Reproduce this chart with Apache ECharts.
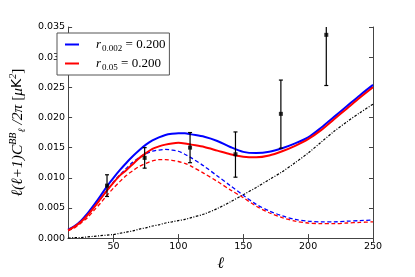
<!DOCTYPE html>
<html>
<head>
<meta charset="utf-8">
<script src="https://cdn.jsdelivr.net/npm/echarts@6/dist/echarts.min.js"></script>
<style>
html,body{margin:0;padding:0;background:#fff;}
#chart{width:415px;height:277px;}
</style>
</head>
<body>
<div id="chart"></div>
<script>
// multipole values for the theory curves
const ells = [15,20,25,30,35,40,45,50,55,60,65,70,75,80,85,90,95,100,105,110,120,130,140,150,160,170,180,190,200,210,220,230,240,250];
// total BB, r_0.002 = 0.2 (blue solid)
const totalBlue = [0.0014,0.0020,0.0029,0.0041,0.0055,0.0070,0.0086,0.0100,0.0113,0.0125,0.0136,0.0146,0.0155,0.0162,0.0167,0.0171,0.0173,0.0174,0.0174,0.0172,0.0168,0.0161,0.0151,0.0143,0.0141,0.0143,0.0149,0.0157,0.0167,0.0183,0.0201,0.0219,0.0237,0.0254];
// total BB, r_0.05 = 0.2 (red solid)
const totalRed = [0.0013,0.0019,0.0027,0.0038,0.0051,0.0065,0.0079,0.0092,0.0104,0.0113,0.0123,0.0133,0.0141,0.0148,0.0152,0.0155,0.0157,0.0158,0.0157,0.0155,0.0151,0.0145,0.0139,0.0135,0.0134,0.0137,0.0144,0.0153,0.0164,0.0179,0.0197,0.0215,0.0233,0.0250];
// tensor-only parts (dashed)
const tensorBlue = [0.0013,0.0019,0.0027,0.0038,0.0051,0.0065,0.0079,0.0093,0.0105,0.0116,0.0126,0.0134,0.0140,0.0144,0.0146,0.0147,0.0146,0.0144,0.0139,0.0133,0.0119,0.0103,0.0087,0.0071,0.0056,0.0045,0.0037,0.0031,0.0028,0.0027,0.0027,0.0028,0.0029,0.0030];
const tensorRed = [0.0012,0.0017,0.0025,0.0034,0.0046,0.0058,0.0071,0.0083,0.0094,0.0104,0.0112,0.0119,0.0124,0.0128,0.0130,0.0130,0.0129,0.0127,0.0124,0.0119,0.0107,0.0094,0.0080,0.0067,0.0053,0.0042,0.0034,0.0028,0.0025,0.0024,0.0024,0.0025,0.0026,0.0027];
// lensing BB (black dash-dot)
const lensing = [0.0000,0.0001,0.0001,0.0002,0.0003,0.0004,0.0005,0.0006,0.0008,0.0010,0.0012,0.0015,0.0017,0.0020,0.0022,0.0025,0.0027,0.0029,0.0031,0.0034,0.0040,0.0049,0.0060,0.0072,0.0084,0.0097,0.0110,0.0125,0.0141,0.0159,0.0177,0.0193,0.0208,0.0222];
// band powers with error bars
const bandL = [45,74,109,144,179,214];
const bandVal = [0.0087,0.0133,0.0150,0.0139,0.0206,0.0337];
const bandLo = [0.0069,0.0116,0.0125,0.0101,0.0149,0.0253];
const bandHi = [0.0105,0.0150,0.0175,0.0176,0.0262,0.0421];
// ticks
const xTicks = [50,100,150,200,250];
const legendNames = ['r_0.002','r_0.05'];

const zip = (xs, ys) => xs.map((x, i) => [x, ys[i]]);
const serif = "'Liberation Serif','DejaVu Serif',serif";

const chart = echarts.init(document.getElementById('chart'), null, {renderer: 'canvas'});

const frameX = {
  type: 'value', min: 15, max: 250, position: 'top',
  axisLine: {show: true, lineStyle: {color: '#444', width: 1}},
  axisTick: {show: true, inside: true, length: 4, customValues: xTicks, lineStyle: {color: '#444'}},
  axisLabel: {show: false}, splitLine: {show: false}
};
const frameY = {
  type: 'value', min: 0, max: 0.035, interval: 0.005, position: 'right',
  axisLine: {show: true, lineStyle: {color: '#444', width: 1}},
  axisTick: {show: true, inside: true, length: 4, lineStyle: {color: '#444'}},
  axisLabel: {show: false}, splitLine: {show: false}
};

const option = {
  animation: false,
  backgroundColor: '#fff',
  grid: {left: 52, right: 42, top: 27, bottom: 35, show: false},
  legend: {
    orient: 'vertical',
    left: 57, top: 33,
    padding: [3, 4, 3, 8],
    itemGap: 2,
    itemWidth: 14, itemHeight: 2,
    icon: 'rect',
    borderColor: '#555', borderWidth: 1, backgroundColor: '#fff',
    data: legendNames.map(n => ({name: n, icon: 'rect'})),
    formatter: function (n) {
      return n === 'r_0.002' ? '{r|r}{s|0.002}{t| = 0.200}' : '{r|r}{s|0.05}{t| = 0.200}';
    },
    textStyle: {
      padding: [0, 0, 0, 12],
      rich: {
        r: {fontFamily: serif, fontStyle: 'italic', fontSize: 13, lineHeight: 16, color: '#000'},
        s: {fontFamily: serif, fontSize: 9, lineHeight: 9, padding: [8, 0, 0, 1], color: '#000'},
        t: {fontFamily: serif, fontSize: 13, lineHeight: 16, color: '#000'}
      }
    }
  },
  xAxis: [{
    type: 'value', min: 15, max: 250,
    name: 'ℓ', nameLocation: 'middle', nameGap: 17,
    nameTextStyle: {fontFamily: serif, fontStyle: 'italic', fontSize: 16, color: '#000'},
    axisLine: {show: true, onZero: false, lineStyle: {color: '#444', width: 1}},
    axisTick: {show: true, inside: true, length: 4, customValues: xTicks, lineStyle: {color: '#444'}},
    axisLabel: {customValues: xTicks, margin: 3, fontFamily: 'DejaVu Sans', fontSize: 9.5, color: '#000'},
    splitLine: {show: false}
  }, frameX],
  yAxis: [{
    type: 'value', min: 0, max: 0.035, interval: 0.005,
    name: '{a|ℓ(ℓ+1)C}{sp|BB}{sb|ℓ}{a| /2}{a|π}{u| [}{a|μ}{k|K}{sp|2}{u|]}',
    nameLocation: 'middle', nameGap: 36, nameRotate: 90,
    nameTextStyle: {
      color: '#000',
      rich: {
        a: {fontFamily: serif, fontStyle: 'italic', fontSize: 15.5, lineHeight: 18, color: '#000'},
        u: {fontFamily: serif, fontSize: 15.5, lineHeight: 18, color: '#000'},
        k: {fontFamily: 'DejaVu Sans', fontSize: 14, lineHeight: 18, color: '#000'},
        sp: {fontFamily: serif, fontStyle: 'italic', fontSize: 10, lineHeight: 10, padding: [0, 0, 9, 0], color: '#000'},
        sb: {fontFamily: serif, fontStyle: 'italic', fontSize: 10, lineHeight: 10, padding: [9, 0, 0, 0], color: '#000'}
      }
    },
    axisLine: {show: true, lineStyle: {color: '#444', width: 1}},
    axisTick: {show: true, inside: true, length: 4, lineStyle: {color: '#444'}},
    axisLabel: {margin: 3, fontFamily: 'DejaVu Sans', fontSize: 9.5, color: '#000',
      formatter: v => v.toFixed(3)},
    splitLine: {show: false}
  }, frameY],
  series: [
    {type: 'line', name: 'lensing', data: zip(ells, lensing), symbol: 'none', smooth: 0.3,
      lineStyle: {color: '#000', width: 1.2, type: [2.5, 1.5, 1, 1.5]}, z: 2},
    {type: 'line', name: 'tb', data: zip(ells, tensorBlue), symbol: 'none', smooth: 0.3,
      lineStyle: {color: '#0000ff', width: 1.3, type: [4, 2.5]}, z: 2},
    {type: 'line', name: 'tr', data: zip(ells, tensorRed), symbol: 'none', smooth: 0.3,
      lineStyle: {color: '#ff0000', width: 1.3, type: [4, 2.5]}, z: 2},
    {type: 'line', name: 'r_0.002', data: zip(ells, totalBlue), symbol: 'none', smooth: 0.3,
      itemStyle: {color: '#0000ff'}, lineStyle: {color: '#0000ff', width: 2}, z: 3},
    {type: 'line', name: 'r_0.05', data: zip(ells, totalRed), symbol: 'none', smooth: 0.3,
      itemStyle: {color: '#ff0000'}, lineStyle: {color: '#ff0000', width: 2}, z: 3},
    {type: 'custom', name: 'err', clip: true, z: 4,
      data: bandL.map((l, i) => [l, bandLo[i], bandHi[i]]),
      renderItem: function (params, api) {
        const l = api.value(0);
        const lo = api.coord([l, api.value(1)]);
        const hi = api.coord([l, api.value(2)]);
        const c = 2;
        const st = {stroke: '#000', lineWidth: 1.2};
        return {type: 'group', children: [
          {type: 'line', shape: {x1: lo[0], y1: lo[1], x2: hi[0], y2: hi[1]}, style: st},
          {type: 'line', shape: {x1: lo[0] - c, y1: lo[1], x2: lo[0] + c, y2: lo[1]}, style: st},
          {type: 'line', shape: {x1: hi[0] - c, y1: hi[1], x2: hi[0] + c, y2: hi[1]}, style: st}
        ]};
      }
    },
    {type: 'scatter', name: 'pts', data: zip(bandL, bandVal), symbol: 'rect', symbolSize: 4,
      itemStyle: {color: '#000'}, z: 5}
  ]
};
chart.setOption(option);
</script>
</body>
</html>
